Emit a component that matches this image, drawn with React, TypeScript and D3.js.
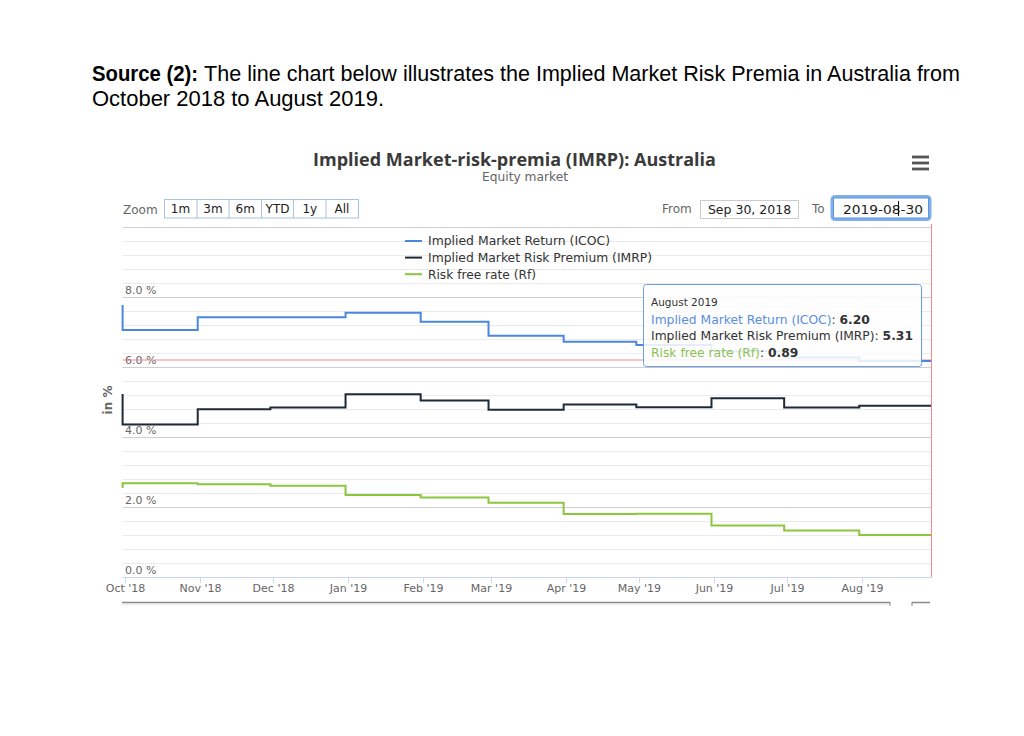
import React from 'react';
import * as d3 from 'd3';

// ---------- DATA ----------
const pointDates = ['2018-09-30', '2018-10-31', '2018-11-30', '2018-12-31', '2019-01-31', '2019-02-28', '2019-03-31', '2019-04-30', '2019-05-31', '2019-06-30', '2019-07-31', '2019-08-30'];
const icocValues = [7.77, 7.06, 7.42, 7.42, 7.55, 7.29, 6.89, 6.72, 6.63, 6.45, 6.27, 6.17];
const imrpValues = [5.23, 4.36, 4.79, 4.84, 5.22, 5.04, 4.78, 4.93, 4.85, 5.11, 4.84, 4.89];
const rfValues = [2.54, 2.68, 2.65, 2.61, 2.34, 2.27, 2.12, 1.80, 1.81, 1.47, 1.33, 1.20];
const seriesNames = ['Implied Market Return (ICOC)', 'Implied Market Risk Premium (IMRP)', 'Risk free rate (Rf)'];
const xTickDates = ['2018-10-01', '2018-11-01', '2018-12-01', '2019-01-01', '2019-02-01', '2019-03-01', '2019-04-01', '2019-05-01', '2019-06-01', '2019-07-01', '2019-08-01'];
const xTickLabels = ["Oct '18", "Nov '18", "Dec '18", "Jan '19", "Feb '19", "Mar '19", "Apr '19", "May '19", "Jun '19", "Jul '19", "Aug '19"];
const yMajorTicks = [0, 2, 4, 6, 8, 10];
const yTickLabels = ['0.0 %', '2.0 %', '4.0 %', '6.0 %', '8.0 %', ''];
const zoomButtons = ['1m', '3m', '6m', 'YTD', '1y', 'All'];
const tooltipTitle = 'August 2019';
const tooltipValues = ['6.20', '5.31', '0.89'];
const crosshairValue = 6.2;
const domainStart = '2018-09-30';
const domainEnd = '2019-08-30';

// ---------- STYLE ----------
const colors = ['#4a87df', '#1e2a3a', '#8cc63f'];
const tooltipNameColors = ['#5a8ee0', '#333333', '#8cc152'];
const chartFont = '"DejaVu Sans", sans-serif';
const headerFont = '"Liberation Sans", Arial, sans-serif';

const parse = d3.utcParse('%Y-%m-%d');

export default function App() {
  const plot = { left: 122.6, right: 932, top: 227, bottom: 577 };
  const x = d3.scaleUtc().domain([parse(domainStart)!, parse(domainEnd)!]).range([plot.left, plot.right]);
  const y = d3.scaleLinear().domain([0, 10]).range([plot.bottom, plot.top]);

  const dates = pointDates.map((d) => parse(d)!);
  const series = [icocValues, imrpValues, rfValues].map((vals) => vals.map((v, i) => [dates[i], v] as [Date, number]));
  const line = d3
    .line<[Date, number]>()
    .x((d) => x(d[0]))
    .y((d) => y(d[1]))
    .curve(d3.curveStepBefore);

  const minor = d3.range(0, 26).filter((i) => i % 5 !== 0).map((i) => i * 0.4);
  const crisp = (v: number) => Math.round(v) + 0.5;

  const btnEdges = [164, 197, 229, 261.5, 293.5, 326, 358];

  return (
    <svg width={1024} height={736} style={{ position: 'absolute', left: 0, top: 0, background: '#fff' }}>
      <rect width={1024} height={736} fill="#fff" />
      {/* header paragraph */}
      <text x={92} y={81} fontFamily={headerFont} fontSize={22} fontWeight="bold" fill="#000" textLength={106} lengthAdjust="spacingAndGlyphs">
        Source (2):
      </text>
      <text x={204} y={81} fontFamily={headerFont} fontSize={22} fill="#000" textLength={756} lengthAdjust="spacingAndGlyphs">
        The line chart below illustrates the Implied Market Risk Premia in Australia from
      </text>
      <text x={92} y={106} fontFamily={headerFont} fontSize={22} fill="#000" textLength={292} lengthAdjust="spacingAndGlyphs">
        October 2018 to August 2019.
      </text>

      {/* chart title */}
      <text x={313} y={166} fontFamily='"Open Sans", sans-serif' fontSize={17} fontWeight="bold" fill="#3a3a3a" textLength={403} lengthAdjust="spacingAndGlyphs">
        Implied Market-risk-premia (IMRP): Australia
      </text>
      <text x={482} y={181} fontFamily={chartFont} fontSize={12} fill="#666" textLength={86} lengthAdjust="spacingAndGlyphs">
        Equity market
      </text>

      {/* menu icon */}
      {[157, 163, 169].map((yy) => (
        <rect key={yy} x={912} y={yy - 1.4} width={17} height={2.8} fill="#555" />
      ))}

      {/* range selector */}
      <text x={123} y={214} fontFamily={chartFont} fontSize={12} fill="#666">Zoom</text>
      <rect x={btnEdges[0] + 0.5} y={199.5} width={btnEdges[6] - btnEdges[0]} height={18.5} fill="#fff" stroke="#a8c3df" />
      {zoomButtons.map((b, i) => (
        <g key={b}>
          {i > 0 && <line x1={btnEdges[i]} x2={btnEdges[i]} y1={199.5} y2={218} stroke="#a8c3df" />}
          <text x={(btnEdges[i] + btnEdges[i + 1]) / 2} y={213} textAnchor="middle" fontFamily={chartFont} fontSize={12} fill="#222">
            {b}
          </text>
        </g>
      ))}
      <text x={662} y={213} fontFamily={chartFont} fontSize={12} fill="#666">From</text>
      <rect x={700.5} y={200.5} width={98} height={18} fill="#fff" stroke="#cccccc" />
      <text x={749.5} y={214} textAnchor="middle" fontFamily={chartFont} fontSize={12.5} fill="#222">Sep 30, 2018</text>
      <text x={812} y={213} fontFamily={chartFont} fontSize={12} fill="#666">To</text>
      <rect x={832} y={196.5} width={98} height={23} rx={3} fill="#fff" stroke="#7fb0ea" strokeWidth={3} />
      <rect x={833.5} y={198} width={95} height={20} fill="#fff" stroke="#5e95da" strokeWidth={1} />
      <text x={843} y={214} fontFamily={chartFont} fontSize={12.5} fill="#222" textLength={80} lengthAdjust="spacingAndGlyphs">2019-08-30</text>
      <line x1={898.5} x2={898.5} y1={201} y2={216} stroke="#111" strokeWidth={1} />

      {/* grid */}
      {minor.map((v) => (
        <line key={'m' + v} x1={plot.left} x2={plot.right} y1={crisp(y(v))} y2={crisp(y(v))} stroke="#ebebeb" strokeWidth={1} />
      ))}
      {yMajorTicks.map((v) => (
        <line key={'M' + v} x1={plot.left} x2={plot.right} y1={crisp(y(v))} y2={crisp(y(v))} stroke="#cfcfcf" strokeWidth={1} />
      ))}

      {/* x axis */}
      <line x1={plot.left} x2={plot.right} y1={crisp(plot.bottom)} y2={crisp(plot.bottom)} stroke="#ccd6eb" />
      {xTickDates.map((d, i) => {
        const xx = crisp(x(parse(d)!));
        return (
          <g key={d}>
            <line x1={xx} x2={xx} y1={plot.bottom} y2={plot.bottom + 6} stroke="#ccd6eb" />
            <text x={xx} y={592} textAnchor="middle" fontFamily={chartFont} fontSize={11} fill="#666">
              {xTickLabels[i]}
            </text>
          </g>
        );
      })}

      {/* y labels */}
      {yMajorTicks.map((v, i) => (
        <text key={'yl' + v} x={125} y={y(v) - 3.5} fontFamily={chartFont} fontSize={11} fill="#666">
          {yTickLabels[i]}
        </text>
      ))}
      <text transform={`translate(112,${(plot.top + plot.bottom) / 2 - 2}) rotate(-90)`} textAnchor="middle" fontFamily={chartFont} fontSize={12} fontWeight="bold" fill="#666">
        in %
      </text>

      {/* crosshair lines */}
      <line x1={plot.left} x2={plot.right} y1={y(crosshairValue)} y2={y(crosshairValue)} stroke="#f08a8a" strokeWidth={1} />

      {/* series */}
      {series.map((s, i) => (
        <path key={i} d={line(s) || ''} fill="none" stroke={colors[i]} strokeWidth={2} strokeLinejoin="miter" />
      ))}

      <line x1={plot.right - 0.5} x2={plot.right - 0.5} y1={plot.top - 3} y2={plot.bottom} stroke="#f08a8a" strokeWidth={1} />

      {/* legend */}
      {seriesNames.map((n, i) => {
        const cy = 241 + i * 16.6;
        const widths = [182, 224, 108];
        return (
          <g key={n}>
            <line x1={405} x2={422} y1={cy} y2={cy} stroke={colors[i]} strokeWidth={2} />
            <text x={428} y={cy + 4.3} fontFamily={chartFont} fontSize={12} fill="#333" textLength={widths[i]} lengthAdjust="spacingAndGlyphs">
              {n}
            </text>
          </g>
        );
      })}

      {/* tooltip */}
      <rect x={644} y={285} width={278} height={82} rx={3} fill="#000" opacity={0.04} transform="translate(1,1)" />
      <rect x={643.5} y={284.5} width={278} height={82} rx={3} fill="#fff" fillOpacity={0.86} stroke="#6f9fe6" strokeWidth={1} />
      <text x={651} y={306} fontFamily={chartFont} fontSize={10.5} fill="#333">{tooltipTitle}</text>
      {seriesNames.map((n, i) => (
        <text key={'tt' + i} x={651} y={323.5 + i * 16.6} fontFamily={chartFont} fontSize={12.3} fill="#333">
          <tspan fill={tooltipNameColors[i]}>{n}</tspan>
          <tspan>: </tspan>
          <tspan fontWeight="bold">{tooltipValues[i]}</tspan>
        </text>
      ))}

      {/* navigator outline */}
      <line x1={122} x2={890} y1={602.5} y2={602.5} stroke="#8a8a8a" strokeWidth={1.5} />
      <line x1={122} x2={890} y1={604} y2={604} stroke="#dddddd" strokeWidth={1} />
      <line x1={890} x2={890} y1={602} y2={606} stroke="#8a8a8a" strokeWidth={1} />
      <line x1={912} x2={930} y1={602.5} y2={602.5} stroke="#8a8a8a" strokeWidth={1.5} />
      <line x1={912} x2={912} y1={602} y2={606} stroke="#8a8a8a" strokeWidth={1} />
    </svg>
  );
}
